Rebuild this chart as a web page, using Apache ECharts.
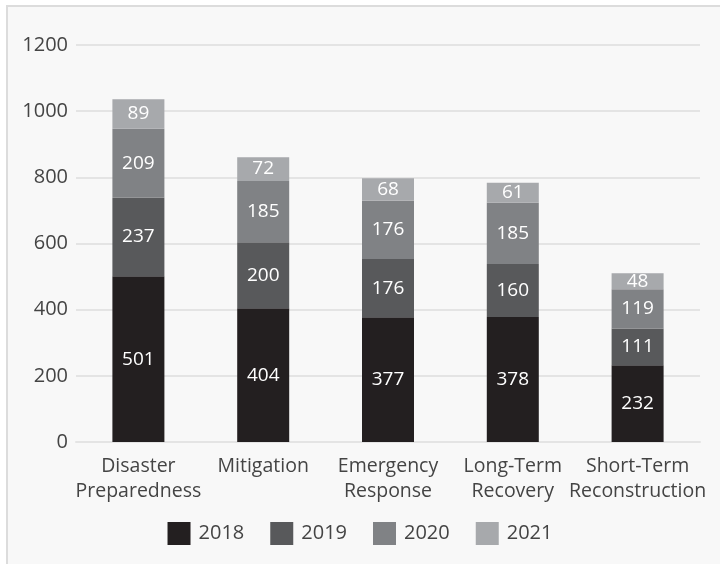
<!DOCTYPE html>
<html>
<head>
<meta charset="utf-8">
<script src="https://cdn.jsdelivr.net/npm/echarts@6/dist/echarts.min.js"></script>
<style>
  html, body { margin: 0; padding: 0; background: #fff; }
  #frame {
    position: absolute; left: 6px; top: 5px; width: 720px; height: 564px;
    border-left: 2px solid #dcdcdc; border-top: 2px solid #dcdcdc;
    background: #f8f8f8;
  }
  #chart { position: absolute; left: 0; top: 0; width: 720px; height: 564px; }
</style>
</head>
<body>
<div id="frame"></div>
<div id="chart"></div>
<script>
  // categories and values per year
  const categories = ['Disaster\nPreparedness', 'Mitigation', 'Emergency\nResponse', 'Long-Term\nRecovery', 'Short-Term\nReconstruction'];
  const years = ['2018', '2019', '2020', '2021'];
  const v2018 = [501, 404, 377, 378, 232];
  const v2019 = [237, 200, 176, 160, 111];
  const v2020 = [209, 185, 176, 185, 119];
  const v2021 = [89, 72, 68, 61, 48];
  const yTicks = [0, 200, 400, 600, 800, 1000, 1200];

  const colors = ['#231f20', '#58595b', '#808285', '#a7a9ac'];
  const values = [v2018, v2019, v2020, v2021];

  let myChart = echarts.init(document.getElementById('chart'));
  myChart.setOption({
    animation: false,
    textStyle: { fontFamily: '"Open Sans", sans-serif' },
    grid: { left: 76, right: 20, top: 45, bottom: 122 },
    color: colors,
    legend: {
      bottom: 14,
      left: 'center',
      itemWidth: 23,
      itemHeight: 23,
      itemGap: 26,
      icon: 'rect',
      textStyle: { fontSize: 20, color: '#444', padding: [0, 0, 0, 3] },
      data: years
    },
    xAxis: {
      type: 'category',
      data: categories,
      axisTick: { show: false },
      axisLine: { lineStyle: { color: '#e4e4e4', width: 2 } },
      axisLabel: { fontSize: 19.5, color: '#444', lineHeight: 25, margin: 12, interval: 0 }
    },
    yAxis: {
      type: 'value',
      min: yTicks[0],
      max: yTicks[yTicks.length - 1],
      interval: 200,
      axisLabel: { fontSize: 20, color: '#444', margin: 8, formatter: v => String(v) },
      splitLine: { lineStyle: { color: '#e4e4e4', width: 2 } }
    },
    series: years.map((y, i) => ({
      name: y,
      type: 'bar',
      stack: 'total',
      barWidth: 52,
      data: values[i],
      itemStyle: { color: colors[i] },
      label: { show: true, position: 'inside', color: '#fff', fontSize: 19 }
    }))
  });

  window.addEventListener('resize', () => {
    myChart.resize();
  });
</script>
</body>
</html>
